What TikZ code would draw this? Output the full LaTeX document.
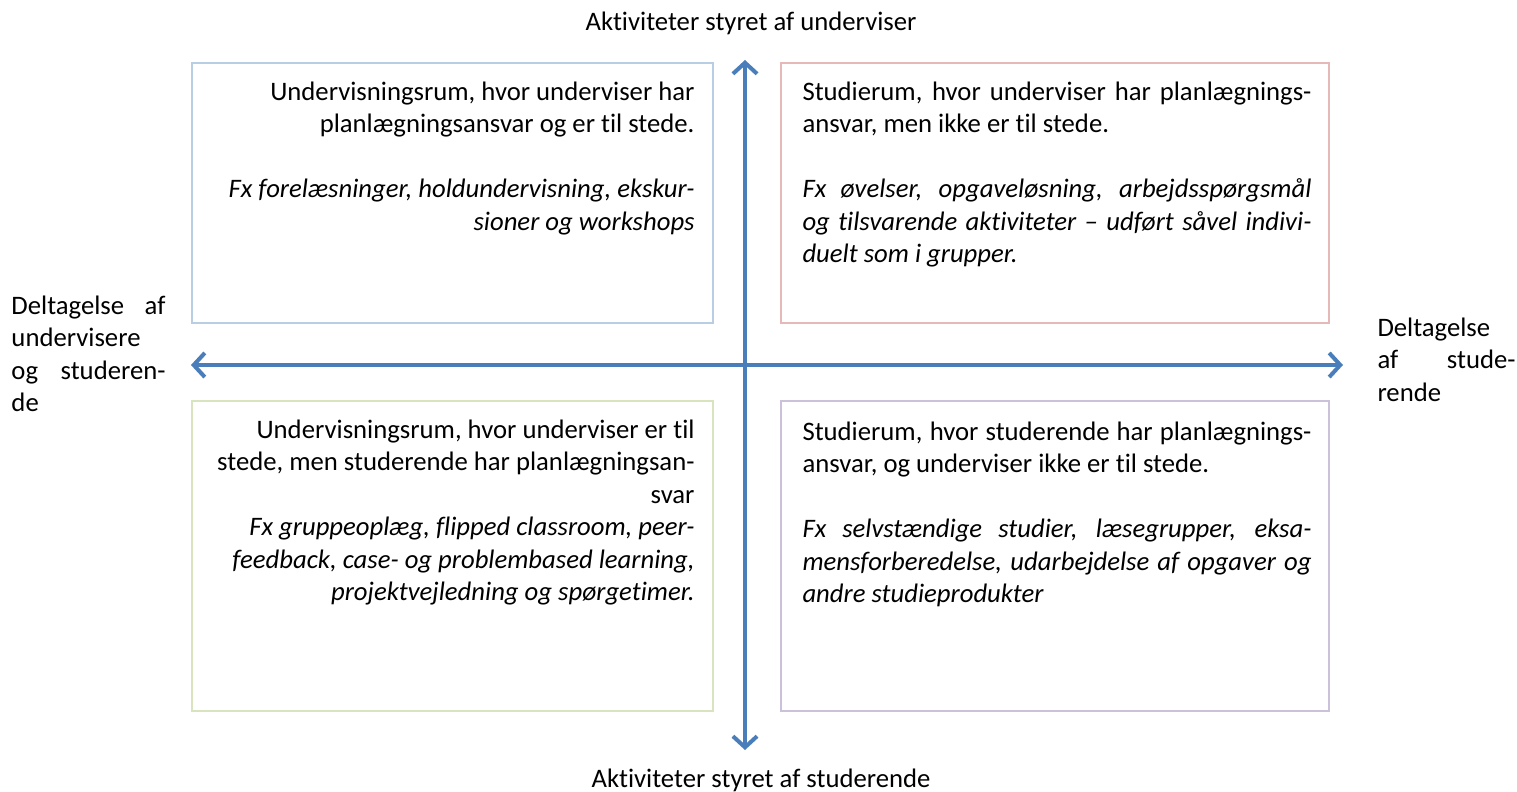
\documentclass[tikz,border=0pt]{standalone}
\usepackage{fontspec}
\setmainfont{Carlito}[RawFeature=-liga]
\usetikzlibrary{arrows.meta}
\definecolor{axisblue}{HTML}{4A7EBB}
\definecolor{bluebd}{HTML}{B9CDE5}
\definecolor{redbd}{HTML}{E6B9B8}
\definecolor{greenbd}{HTML}{D7E4BD}
\definecolor{purplebd}{HTML}{CCC1DA}
\newlength\px
\setlength\px{0.4065pt}
\newcommand{\jline}[1]{\makebox[\linewidth][s]{#1}\\}
\tikzset{
  qbox/.style={draw, line width=2\px, minimum width=#1, inner sep=0pt, fill=white},
  txt/.style={inner sep=0pt, font=\fontsize{10.85}{13.21}\selectfont},
  axisarrow/.style={draw=axisblue, line width=1.63pt, {Straight Barb[length=4.5pt,width=9.8pt]}-{Straight Barb[length=4.5pt,width=9.8pt]}}
}
\begin{document}
\begin{tikzpicture}[x=0.4065pt,y=-0.4065pt]
\useasboundingbox (0,0) rectangle (1517,791);
% quadrant boxes
\node (tl) [qbox=521\px, draw=bluebd, minimum height=260\px] at (452.5,193) {};
\node (tr) [qbox=548\px, draw=redbd, minimum height=260\px] at (1055,193) {};
\node (bl) [qbox=521\px, draw=greenbd, minimum height=310\px] at (452.5,556) {};
\node (br) [qbox=548\px, draw=purplebd, minimum height=310\px] at (1055,556) {};
% axes
\coordinate (top) at (745,60);
\coordinate (bot) at (745,750);
\coordinate (lft) at (191,365);
\coordinate (rgt) at (1343,365);
\draw[axisarrow] (bot) -- (top);
\draw[axisarrow] (lft) -- (rgt);
% box texts
\node (tltext) [txt, anchor=base east] at (695,100) {\begin{minipage}[t]{495\px}\raggedleft
Undervisningsrum, hvor underviser har\\
planlægningsansvar og er til stede.\\[13.21pt]
\itshape Fx forelæsninger, holdundervisning, ekskur-\\
sioner og workshops
\end{minipage}};
\node (trtext) [txt, anchor=base west] at (802,100) {\begin{minipage}[t]{509\px}\setlength\parindent{0pt}
\jline{Studierum, hvor underviser har planlægnings-}
ansvar, men ikke er til stede.\\[13.21pt]
\itshape
\jline{Fx øvelser, opgaveløsning, arbejdsspørgsmål}
\jline{og tilsvarende aktiviteter – udført såvel indivi-}
duelt som i grupper.
\end{minipage}};
\node (bltext) [txt, anchor=base east] at (695,438) {\begin{minipage}[t]{500\px}\raggedleft
Undervisningsrum, hvor underviser er til\\
stede, men studerende har planlægningsan-\\
svar\\
\itshape Fx gruppeoplæg, flipped classroom, peer-\\
feedback, case- og problembased learning,\\
projektvejledning og spørgetimer.
\end{minipage}};
\node (brtext) [txt, anchor=base west] at (802,440) {\begin{minipage}[t]{509\px}\setlength\parindent{0pt}
\jline{Studierum, hvor studerende har planlægnings-}
ansvar, og underviser ikke er til stede.\\[13.21pt]
\itshape
\jline{Fx selvstændige studier, læsegrupper, eksa-}
\jline{mensforberedelse, udarbejdelse af opgaver og}
andre studieprodukter
\end{minipage}};
% axis labels
\node (toplabel) [txt, anchor=base] at (751,30) {Aktiviteter styret af underviser};
\node (botlabel) [txt, anchor=base] at (761,787) {Aktiviteter styret af studerende};
\node (leftlabel) [txt, anchor=base west] at (11,314) {\begin{minipage}[t]{154\px}\setlength\parindent{0pt}
\jline{Deltagelse af}
undervisere\\
\jline{og studeren-}
de
\end{minipage}};
\node (rightlabel) [txt, anchor=base west] at (1377,336) {\begin{minipage}[t]{138\px}\setlength\parindent{0pt}
Deltagelse\\
\jline{af stude-}
rende
\end{minipage}};
\end{tikzpicture}
\end{document}
